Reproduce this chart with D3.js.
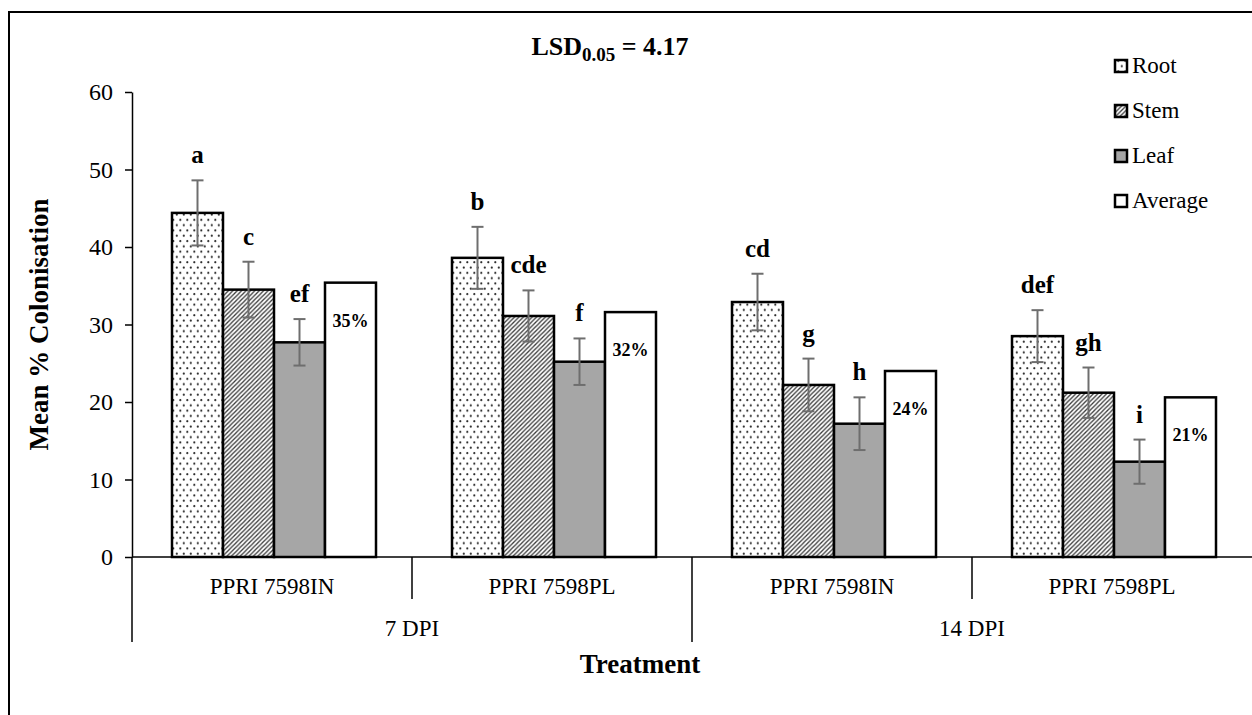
<!DOCTYPE html>
<html>

<head>
    <meta charset="utf-8">
    <script src="https://d3js.org/d3.v7.min.js"></script>
    <title>Mean % Colonisation</title>
    <style>
        body {
            margin: 0;
            background: #fff;
        }

        text {
            font-family: "Liberation Serif", "Times New Roman", serif;
            fill: #000;
        }
    </style>
</head>

<body>
    <div id="chart"></div>

    <script>
        // values
        const dpiGroups = ["7 DPI", "14 DPI"];
        const strains = ["PPRI 7598IN", "PPRI 7598PL", "PPRI 7598IN", "PPRI 7598PL"];
        const strainGroup = [0, 0, 1, 1];
        const series = ["Root", "Stem", "Leaf", "Average"];

        const root = [44.4, 38.6, 32.9, 28.5];
        const stem = [34.5, 31.1, 22.2, 21.2];
        const leaf = [27.7, 25.2, 17.2, 12.3];
        const average = [35.4, 31.6, 24.0, 20.6];

        const rootErr = [4.2, 4.0, 3.65, 3.35];
        const stemErr = [3.6, 3.3, 3.4, 3.25];
        const leafErr = [3.0, 3.0, 3.4, 2.85];

        const rootLetters = ["a", "b", "cd", "def"];
        const stemLetters = ["c", "cde", "g", "gh"];
        const leafLetters = ["ef", "f", "h", "i"];

        const yTicks = [0, 10, 20, 30, 40, 50, 60];

        const width = 1252;
        const height = 715;
        const margin = { top: 92, right: 0, bottom: 158, left: 132 };

        const svg = d3.select("#chart").append("svg")
            .attr("width", width)
            .attr("height", height);

        // fill patterns
        const defs = svg.append("defs");
        const dots = defs.append("pattern")
            .attr("id", "dots")
            .attr("patternUnits", "userSpaceOnUse")
            .attr("width", 7).attr("height", 10.6);
        dots.append("rect").attr("width", 7).attr("height", 10.6).attr("fill", "#fff");
        dots.append("circle").attr("cx", 1.8).attr("cy", 2.6).attr("r", 1.1).attr("fill", "#2a2a2a");
        dots.append("circle").attr("cx", 5.3).attr("cy", 7.9).attr("r", 1.1).attr("fill", "#2a2a2a");

        const hatch = defs.append("pattern")
            .attr("id", "hatch")
            .attr("patternUnits", "userSpaceOnUse")
            .attr("width", 4.4).attr("height", 4.4);
        hatch.append("rect").attr("width", 4.4).attr("height", 4.4).attr("fill", "#fff");
        hatch.append("path")
            .attr("d", "M-1.1,1.1 L1.1,-1.1 M0,4.4 L4.4,0 M3.3,5.5 L5.5,3.3")
            .attr("stroke", "#3a3a3a")
            .attr("stroke-width", 1.3);

        const fills = {
            Root: "url(#dots)",
            Stem: "url(#hatch)",
            Leaf: "#a6a6a6",
            Average: "#fff"
        };

        // outer frame
        svg.append("rect")
            .attr("x", 9).attr("y", 12)
            .attr("width", 1280).attr("height", 740)
            .attr("fill", "none")
            .attr("stroke", "#000")
            .attr("stroke-width", 2);

        const x0 = d3.scaleBand()
            .domain(d3.range(strains.length))
            .range([margin.left, width - margin.right])
            .padding(0);

        const x1 = d3.scaleBand()
            .domain(series)
            .range([40, 244])
            .padding(0);

        const y = d3.scaleLinear()
            .domain([0, 60])
            .range([height - margin.bottom, margin.top]);

        // y axis
        const yAxis = svg.append("g")
            .attr("transform", `translate(${margin.left},0)`)
            .call(d3.axisLeft(y).tickValues(yTicks).tickSize(7).tickPadding(12).tickSizeOuter(0));
        yAxis.select(".domain").attr("stroke", "#000").attr("stroke-width", 1.5);
        yAxis.selectAll(".tick line").attr("stroke", "#000").attr("stroke-width", 1.5);
        yAxis.selectAll(".tick text")
            .style("font-family", "'Liberation Serif', serif")
            .style("font-size", "24px")
            .attr("fill", "#000");

        // build rows for bars
        const valuesBy = { Root: root, Stem: stem, Leaf: leaf, Average: average };
        const errBy = { Root: rootErr, Stem: stemErr, Leaf: leafErr };
        const lettersBy = { Root: rootLetters, Stem: stemLetters, Leaf: leafLetters };

        const rows = [];
        strains.forEach((s, i) => {
            series.forEach(k => {
                rows.push({
                    i, key: k,
                    value: valuesBy[k][i],
                    err: errBy[k] ? errBy[k][i] : null,
                    letter: lettersBy[k] ? lettersBy[k][i] : null
                });
            });
        });

        const bx = d => x0(d.i) + x1(d.key);
        const bc = d => bx(d) + x1.bandwidth() / 2;

        svg.append("g").selectAll("rect")
            .data(rows)
            .join("rect")
            .attr("x", bx)
            .attr("y", d => y(d.value))
            .attr("width", x1.bandwidth())
            .attr("height", d => y(0) - y(d.value))
            .attr("fill", d => fills[d.key])
            .attr("stroke", "#000")
            .attr("stroke-width", 2.5);

        // x axis line
        svg.append("line")
            .attr("x1", margin.left).attr("x2", width)
            .attr("y1", y(0)).attr("y2", y(0))
            .attr("stroke", "#000").attr("stroke-width", 1.5);

        // error bars
        const withErr = rows.filter(d => d.err != null);
        const eb = svg.append("g")
            .attr("stroke", "#6e6e6e")
            .attr("stroke-width", 2);
        eb.selectAll(".stem-line")
            .data(withErr)
            .join("line")
            .attr("x1", bc).attr("x2", bc)
            .attr("y1", d => y(d.value + d.err))
            .attr("y2", d => y(d.value - d.err));
        eb.selectAll(".cap-top")
            .data(withErr)
            .join("line")
            .attr("class", "cap-top")
            .attr("x1", d => bc(d) - 6).attr("x2", d => bc(d) + 6)
            .attr("y1", d => y(d.value + d.err))
            .attr("y2", d => y(d.value + d.err));
        eb.selectAll(".cap-bot")
            .data(withErr)
            .join("line")
            .attr("class", "cap-bot")
            .attr("x1", d => bc(d) - 6).attr("x2", d => bc(d) + 6)
            .attr("y1", d => y(d.value - d.err))
            .attr("y2", d => y(d.value - d.err));

        // significance letters
        svg.append("g").selectAll("text")
            .data(withErr)
            .join("text")
            .attr("x", bc)
            .attr("y", d => y(d.value + d.err) - 17)
            .attr("text-anchor", "middle")
            .style("font-size", "25px")
            .style("font-weight", "bold")
            .text(d => d.letter);

        // percentage labels in average bars
        svg.append("g").selectAll("text")
            .data(rows.filter(d => d.key === "Average"))
            .join("text")
            .attr("x", bc)
            .attr("y", d => y(d.value) + 44)
            .attr("text-anchor", "middle")
            .style("font-size", "18px")
            .style("font-weight", "bold")
            .text(d => Math.round(d.value) + "%");

        // multi-level category axis
        const sep = svg.append("g").attr("stroke", "#000").attr("stroke-width", 1.5);
        strains.forEach((s, i) => {
            const xs = x0(i);
            const isLong = i === 0 || strainGroup[i] !== strainGroup[i - 1];
            sep.append("line")
                .attr("x1", xs).attr("x2", xs)
                .attr("y1", y(0)).attr("y2", isLong ? 642 : 599);
        });

        svg.append("g").selectAll("text")
            .data(strains)
            .join("text")
            .attr("x", (d, i) => x0(i) + x0.bandwidth() / 2)
            .attr("y", 594)
            .attr("text-anchor", "middle")
            .style("font-size", "23px")
            .text(d => d);

        svg.append("g").selectAll("text")
            .data(dpiGroups)
            .join("text")
            .attr("x", (d, g) => {
                const idx = d3.range(strains.length).filter(i => strainGroup[i] === g);
                return (x0(idx[0]) + x0(idx[idx.length - 1]) + x0.bandwidth()) / 2;
            })
            .attr("y", 636)
            .attr("text-anchor", "middle")
            .style("font-size", "23px")
            .text(d => d);

        // axis titles
        svg.append("text")
            .attr("x", 640)
            .attr("y", 673)
            .attr("text-anchor", "middle")
            .style("font-size", "27px")
            .style("font-weight", "bold")
            .text("Treatment");

        svg.append("text")
            .attr("transform", `translate(48,${(y(0) + y(60)) / 2}) rotate(-90)`)
            .attr("text-anchor", "middle")
            .style("font-size", "27px")
            .style("font-weight", "bold")
            .text("Mean % Colonisation");

        // LSD title
        const title = svg.append("text")
            .attr("x", 610)
            .attr("y", 55)
            .attr("text-anchor", "middle")
            .style("font-size", "26px")
            .style("font-weight", "bold");
        title.append("tspan").text("LSD");
        title.append("tspan").attr("dy", 6).style("font-size", "19px").text("0.05");
        title.append("tspan").attr("dy", -6).text(" = 4.17");

        // legend
        const legend = svg.append("g");
        series.forEach((k, i) => {
            const base = 73 + i * 45;
            legend.append("rect")
                .attr("x", 1115).attr("y", base - 13)
                .attr("width", 12).attr("height", 12)
                .attr("fill", fills[k])
                .attr("stroke", "#000")
                .attr("stroke-width", 2.5);
            legend.append("text")
                .attr("x", 1132).attr("y", base)
                .style("font-size", "23px")
                .text(k);
        });
    </script>

</body>

</html>
